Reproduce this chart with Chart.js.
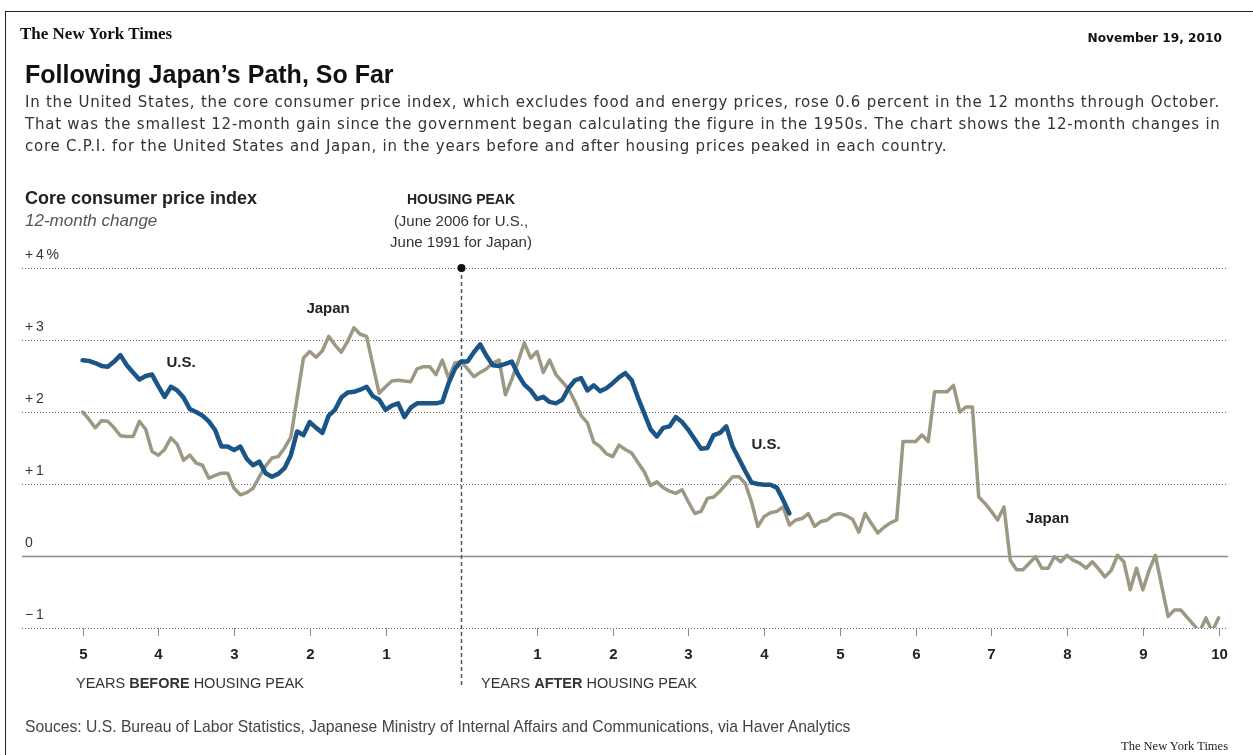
<!DOCTYPE html>
<html>
<head>
<meta charset="utf-8">
<script src="https://cdn.jsdelivr.net/npm/chart.js@4"></script>
<style>
  body { margin: 0; background: #fff; }
  #wrap { position: relative; width: 1253px; height: 755px; overflow: hidden; font-family: "Liberation Sans", Arial, sans-serif; }
  #frame { position: absolute; left: 5px; top: 11px; width: 1260px; height: 760px; border-left: 1.5px solid #222; border-top: 1.5px solid #222; }
  canvas { position: absolute; left: 0; top: 0; }
  .t { position: absolute; white-space: nowrap; }
</style>
</head>
<body>
<div id="wrap">
  <div id="frame"></div>
  <canvas id="chart" width="1253" height="755"></canvas>

  <div class="t" style="left:20px;top:24px;line-height:20px;font-family:'Liberation Serif',serif;font-weight:bold;font-size:17px;color:#111;">The New York Times</div>
  <div class="t" style="right:31px;top:30px;line-height:16px;font-family:'DejaVu Sans',Verdana,sans-serif;font-weight:bold;font-size:12.2px;color:#111;">November 19, 2010</div>

  <div class="t" style="left:25px;top:59px;line-height:30px;font-size:25px;font-weight:bold;color:#111;">Following Japan’s Path, So Far</div>
  <div class="t" style="left:25px;top:91px;line-height:22px;font-family:'DejaVu Sans',sans-serif;font-size:15px;letter-spacing:0.76px;color:#333;">
    In the United States, the core consumer price index, which excludes food and energy prices, rose 0.6 percent in the 12 months through October.<br>
    That was the smallest 12-month gain since the government began calculating the figure in the 1950s. The chart shows the 12-month changes in<br>
    core C.P.I. for the United States and Japan, in the years before and after housing prices peaked in each country.
  </div>

  <div class="t" style="left:25px;top:187px;line-height:22px;font-size:18px;font-weight:bold;color:#222;">Core consumer price index</div>
  <div class="t" style="left:25px;top:210px;line-height:22px;font-size:17px;font-style:italic;color:#555;">12-month change</div>

  <div class="t" style="left:361px;width:200px;text-align:center;top:190px;line-height:18px;font-size:14px;font-weight:bold;color:#222;">HOUSING PEAK</div>
  <div class="t" style="left:361px;width:200px;text-align:center;top:210px;line-height:21px;font-size:15px;color:#333;">(June 2006 for U.S.,<br>June 1991 for Japan)</div>

  <div class="t" style="left:76px;top:674px;line-height:18px;font-size:14.5px;color:#333;">YEARS <b>BEFORE</b> HOUSING PEAK</div>
  <div class="t" style="left:481px;top:674px;line-height:18px;font-size:14.5px;color:#333;">YEARS <b>AFTER</b> HOUSING PEAK</div>

  <div class="t" style="left:25px;top:718px;line-height:18px;font-size:15.7px;color:#444;">Souces: U.S. Bureau of Labor Statistics, Japanese Ministry of Internal Affairs and Communications, via Haver Analytics</div>
  <div class="t" style="right:25px;top:738px;line-height:16px;font-family:'Liberation Serif',serif;font-size:12.5px;color:#222;">The New York Times</div>
</div>

<script>
// months relative to housing peak, first value is 60 months before
var startMonth = -60;

// U.S. core CPI, 12-month change (%), monthly from -60 to +52
var usCpi = [
  2.72, 2.71, 2.68, 2.64, 2.63, 2.70, 2.79, 2.65, 2.55, 2.45,
  2.50, 2.52, 2.36, 2.21, 2.35, 2.30, 2.20, 2.04, 2.00, 1.95,
  1.87, 1.75, 1.52, 1.52, 1.47, 1.52, 1.35, 1.26, 1.31, 1.15,
  1.10, 1.14, 1.22, 1.40, 1.73, 1.68, 1.86, 1.78, 1.71, 1.95,
  2.03, 2.20, 2.27, 2.28, 2.31, 2.35, 2.22, 2.17, 2.03, 2.09,
  2.12, 1.93, 2.06, 2.12, 2.12, 2.12, 2.12, 2.14, 2.40, 2.60,
  2.70, 2.70, 2.83, 2.94, 2.78, 2.65, 2.64, 2.67, 2.70, 2.52,
  2.38, 2.30, 2.18, 2.21, 2.14, 2.12, 2.17, 2.33, 2.44, 2.47,
  2.30, 2.37, 2.29, 2.33, 2.40, 2.48, 2.54, 2.44, 2.20, 1.98,
  1.76, 1.66, 1.78, 1.80, 1.93, 1.86, 1.75, 1.62, 1.49, 1.50,
  1.68, 1.71, 1.80, 1.52, 1.35, 1.18, 1.02, 1.00, 0.99, 0.99,
  0.95, 0.78, 0.59
];

// Japan core CPI, 12-month change (%), monthly from -60 to +120
var japanCpi = [
  2.00, 1.90, 1.78, 1.88, 1.87, 1.78, 1.67, 1.66, 1.66, 1.87,
  1.76, 1.45, 1.40, 1.48, 1.64, 1.55, 1.33, 1.40, 1.29, 1.26,
  1.08, 1.12, 1.15, 1.15, 0.94, 0.85, 0.88, 0.94, 1.10, 1.25,
  1.36, 1.38, 1.50, 1.65, 2.20, 2.75, 2.84, 2.76, 2.85, 3.05,
  2.93, 2.83, 2.98, 3.17, 3.08, 3.05, 2.65, 2.26, 2.35, 2.43,
  2.44, 2.43, 2.42, 2.60, 2.63, 2.63, 2.52, 2.72, 2.47, 2.68,
  2.70, 2.60, 2.49, 2.55, 2.60, 2.68, 2.72, 2.24, 2.45, 2.70,
  2.96, 2.75, 2.84, 2.55, 2.72, 2.52, 2.42, 2.32, 2.15, 1.95,
  1.85, 1.58, 1.52, 1.42, 1.38, 1.54, 1.48, 1.43, 1.30, 1.17,
  0.98, 1.03, 0.95, 0.90, 0.87, 0.92, 0.75, 0.59, 0.62, 0.80,
  0.82, 0.90, 1.00, 1.10, 1.10, 1.01, 0.75, 0.41, 0.55, 0.60,
  0.62, 0.68, 0.43, 0.50, 0.52, 0.59, 0.41, 0.48, 0.50, 0.57,
  0.59, 0.56, 0.51, 0.33, 0.59, 0.45, 0.32, 0.40, 0.46, 0.50,
  1.59, 1.59, 1.59, 1.68, 1.59, 2.28, 2.28, 2.28, 2.37, 2.00,
  2.07, 2.07, 0.82, 0.73, 0.62, 0.50, 0.68, -0.06, -0.19, -0.19,
  -0.10, -0.01, -0.17, -0.17, -0.01, -0.08, 0.01, -0.06, -0.10, -0.17,
  -0.08, -0.18, -0.29, -0.20, 0.01, -0.08, -0.47, -0.17, -0.47, -0.20,
  0.01, -0.42, -0.84, -0.75, -0.75, -0.85, -0.95, -1.05, -0.86, -1.05,
  -0.86
];

// axis ticks
var yTickValues = [-1, 0, 1, 2, 3, 4];
var yTickLabels = ['\u2212\u20091', '0', '+\u20091', '+\u20092', '+\u20093', '+\u20094\u2009%'];
var xTickYears = [-5, -4, -3, -2, -1, 0, 1, 2, 3, 4, 5, 6, 7, 8, 9, 10];

function toPoints(values) {
    return values.map(function (v, i) { return { x: startMonth + i, y: v }; });
}

var US_BLUE = '#1b5486';
var JAPAN_GRAY = '#9c9883';

var axisPlugin = {
    id: 'nytAxes',
    beforeDatasetsDraw: function (chart) {
        var ctx = chart.ctx;
        var xs = chart.scales.x, ys = chart.scales.y;
        var area = chart.chartArea;
        ctx.save();

        // horizontal grid lines + labels
        yTickValues.forEach(function (v, i) {
            var y = Math.round(ys.getPixelForValue(v)) + 0.5;
            ctx.beginPath();
            if (v === 0) {
                ctx.setLineDash([]);
                ctx.strokeStyle = '#8a8a8a';
                ctx.lineWidth = 1.5;
            } else {
                ctx.setLineDash([1, 2]);
                ctx.strokeStyle = '#666';
                ctx.lineWidth = 1;
            }
            ctx.moveTo(area.left, y);
            ctx.lineTo(area.right, y);
            ctx.stroke();

            ctx.setLineDash([]);
            ctx.fillStyle = '#333';
            ctx.font = '14px "Liberation Sans", Arial, sans-serif';
            ctx.textAlign = 'left';
            ctx.textBaseline = 'bottom';
            ctx.fillText(yTickLabels[i], 25, y - 6);
        });

        // x tick marks and labels
        var yBottom = ys.getPixelForValue(-1);
        xTickYears.forEach(function (yr) {
            var x = Math.round(xs.getPixelForValue(yr * 12)) + 0.5;
            if (yr !== 0) {
                ctx.beginPath();
                ctx.setLineDash([]);
                ctx.strokeStyle = '#888';
                ctx.lineWidth = 1;
                ctx.moveTo(x, yBottom);
                ctx.lineTo(x, yBottom + 8);
                ctx.stroke();

                ctx.fillStyle = '#222';
                ctx.font = 'bold 15px "Liberation Sans", Arial, sans-serif';
                ctx.textAlign = 'center';
                ctx.textBaseline = 'middle';
                ctx.fillText(String(Math.abs(yr)), x, yBottom + 27);
            }
        });

        // housing peak marker
        var px = Math.round(xs.getPixelForValue(0)) + 0.5;
        var pTop = ys.getPixelForValue(4);
        ctx.beginPath();
        ctx.setLineDash([4, 3]);
        ctx.strokeStyle = '#555';
        ctx.lineWidth = 1.5;
        ctx.moveTo(px, pTop);
        ctx.lineTo(px, yBottom + 60);
        ctx.stroke();
        ctx.setLineDash([]);
        ctx.beginPath();
        ctx.fillStyle = '#111';
        ctx.arc(px, pTop, 4, 0, Math.PI * 2);
        ctx.fill();

        ctx.restore();
    },
    afterDatasetsDraw: function (chart) {
        var ctx = chart.ctx;
        var xs = chart.scales.x, ys = chart.scales.y;
        // series labels: [text, month, value]
        var labels = [
            ['U.S.', -44.4, 2.68],
            ['Japan', -21.1, 3.43],
            ['U.S.', 48.3, 1.54],
            ['Japan', 92.9, 0.51]
        ];
        ctx.save();
        ctx.fillStyle = '#222';
        ctx.font = 'bold 15px "Liberation Sans", Arial, sans-serif';
        ctx.textAlign = 'center';
        ctx.textBaseline = 'middle';
        labels.forEach(function (l) {
            ctx.fillText(l[0], xs.getPixelForValue(l[1]), ys.getPixelForValue(l[2]));
        });
        ctx.restore();
    }
};

var ctx = document.getElementById('chart').getContext('2d');
var chart = new Chart(ctx, {
    type: 'line',
    data: {
        datasets: [{
            label: 'U.S.',
            data: toPoints(usCpi),
            borderColor: US_BLUE,
            borderWidth: 4.5,
            pointRadius: 0,
            tension: 0,
            borderJoinStyle: 'round',
            borderCapStyle: 'round'
        }, {
            label: 'Japan',
            data: toPoints(japanCpi),
            borderColor: JAPAN_GRAY,
            borderWidth: 3.5,
            pointRadius: 0,
            tension: 0,
            borderJoinStyle: 'round',
            borderCapStyle: 'round'
        }]
    },
    options: {
        responsive: false,
        animation: false,
        events: [],
        layout: {
            padding: { left: 22, right: 25, top: 268, bottom: 127 }
        },
        scales: {
            x: { type: 'linear', display: false, min: -69.6, max: 121.5 },
            y: { type: 'linear', display: false, min: -1, max: 4 }
        },
        plugins: {
            legend: { display: false },
            tooltip: { enabled: false }
        }
    },
    plugins: [axisPlugin]
});
</script>
</body>
</html>
